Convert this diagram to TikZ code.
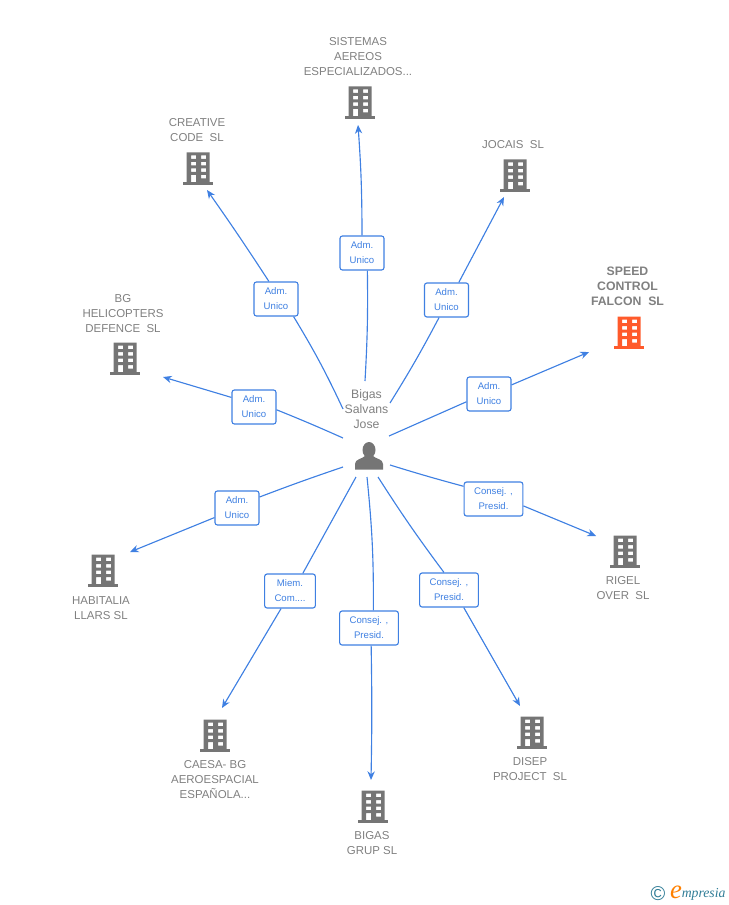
\documentclass[tikz,border=0pt]{standalone}
\usepackage{fontspec}
\setmainfont{Liberation Sans}
\newfontfamily\logofont{Liberation Serif}
\usetikzlibrary{arrows.meta}
\usetikzlibrary{positioning}

\definecolor{linkblue}{HTML}{3F80E2}
\definecolor{icongray}{HTML}{757575}
\definecolor{textgray}{HTML}{808080}
\definecolor{icongorange}{HTML}{FF5A2B}
\definecolor{logoteal}{HTML}{2F7C96}

\tikzset{
	pics/building/.style = {
	  code = {
		\fill[#1, even odd rule]
		  (-11.5,-32.5) rectangle (11.5,-2)
		  (-7,-29.5) rectangle (-2,-26)
		  (3,-29.5) rectangle (8,-26)
		  (-7,-23) rectangle (-2,-19.5)
		  (3,-23) rectangle (8,-19.5)
		  (-7,-16.5) rectangle (-2,-13)
		  (3,-16.5) rectangle (8,-13)
		  (-7,-10) rectangle (-2,-2)
		  (3,-10) rectangle (8,-6.5);
		\fill[#1] (-15,-3) rectangle (15,0);
	  }
	},
}

\begin{document}
\begin{tikzpicture}[
	x = 0.75pt, y = -0.75pt,
	company/.style = {
	  text = textgray, align = center,
	  font = \fontsize{8.6}{11.3}\selectfont,
	  inner sep = 0pt, yshift = -0.6pt,
	},
	role/.style = {
	  draw = linkblue, fill = white, text = linkblue,
	  line width = 0.85pt, rounded corners = 1.8pt,
	  align = center, inner sep = 0pt,
	  minimum height = 25.5pt,
	  font = \fontsize{7.2}{11.3}\selectfont,
	},
	link/.style = {linkblue, line width = 0.85pt},
	tip/.style = {-{Stealth[length = 6.5pt, width = 5.5pt]}},
  ]
  \useasboundingbox (0,0) rectangle (728,905);

  % companies
  \foreach \name/\x/\y/\bx/\by/\txt in {
	  sistemas/358/56/360/119/{SISTEMAS\\AEREOS\\ESPECIALIZADOS...},
	  creative/197/129.5/198/185/{CREATIVE\\CODE\ \ SL},
	  jocais/513/144/515/192/{JOCAIS\ \ SL},
	  bg/123/313/125/375/{BG\\HELICOPTERS\\DEFENCE\ \ SL},
	  habitalia/101/607.5/103/587/{HABITALIA\\LLARS SL},
	  caesa/215/779/215/752/{CAESA- BG\\AEROESPACIAL\\ESPAÑOLA...},
	  bigas/372/842.5/373/823/{BIGAS\\GRUP SL},
	  disep/530/768.5/532/749/{DISEP\\PROJECT\ \ SL},
	  rigel/623/587.5/625/568/{RIGEL\\OVER\ \ SL}} {
	\node[company] (T\name) at (\x,\y) {\txt};
	\pic at (\bx,\by) {building = icongray};
  }
  \node[company, font = \fontsize{9.2}{11.5}\selectfont\bfseries] (Tspeed) at (627.5,285.5)
	{SPEED\\CONTROL\\FALCON\ \ SL};
  \pic at (629,349) {building = icongorange};

  % person in the middle
  \node[company, font = \fontsize{9.2}{11.3}\selectfont] (Jose) at (366.5,408) {Bigas\\Salvans\\Jose};
  \fill[icongray] (369,450) ellipse (6.5 and 8);
  \fill[icongray] (355,469.5) -- (355,464) .. controls (355,459) and (362,459) .. (365,456)
	-- (373,456) .. controls (376,459) and (383,459) .. (383,464) -- (383,469.5) -- cycle;

  % links: start near the person, role box, end near the company
  \foreach \name/\sx/\sy/\lx/\ly/\ex/\ey/\w/\aa/\ab/\ba/\bb/\txt in {
	  sistemas/365/381/362/253/358/125/33/-73.6/90/-2/-2/{Adm.\\Unico},
	  jocais/390/403/446.5/300/504/197/33/-113.8/55.9/-2/0/{Adm.\\Unico},
	  speed/389/436/489/394/589/352/33/-161.6/22.2/0/0/{Adm.\\Unico},
	  rigel/390/465/493.5/499/596/536/44/157.9/-13.3/-1/0/{Consej. ,\\Presid.},
	  disep/378/477/449/590/520/706/44/106.4/-50.5/-2/0/{Consej. ,\\Presid.},
	  bigas/367/477/369/628/371/780/44/76.8/-83.3/3/1/{Consej. ,\\Presid.},
	  caesa/356/477/290/591/222/708/38/54.8/-117.9/0/0/{Miem.\\Com....},
	  habitalia/343/467/237/508/130/552/33/26.6/-157.8/-1/0/{Adm.\\Unico},
	  bg/343/438/254/407/163/377/33/-7.8/157.8/-1/0/{Adm.\\Unico},
	  creative/343/409/276/299/207/190/33/-45/112.4/-3/-1/{Adm.\\Unico}} {
	\coordinate (S\name) at (\sx,\sy);
	\coordinate (E\name) at (\ex,\ey);
	\node[role, minimum width = \w pt] (L\name) at (\lx,\ly) {\txt};
	\draw[link] (S\name) to[bend left = \ba] (L\name.\aa);
	\draw[link, tip] (L\name.\ab) to[bend left = \bb] (E\name);
  }

  % logo
  \node[text = logoteal, font = \fontsize{15}{15}\selectfont, inner sep = 0pt] (Lcopy) at (658,894) {©};
  \node[text = orange, font = \logofont\itshape\fontsize{20}{20}\selectfont, inner sep = 0pt] (Le) at (676,892) {e};
  \node[text = logoteal, font = \logofont\itshape\fontsize{10.3}{10.3}\selectfont, inner sep = 0pt,
	anchor = west] (Lname) at (681.5,894.5) {mpresia};
\end{tikzpicture}
\end{document}
